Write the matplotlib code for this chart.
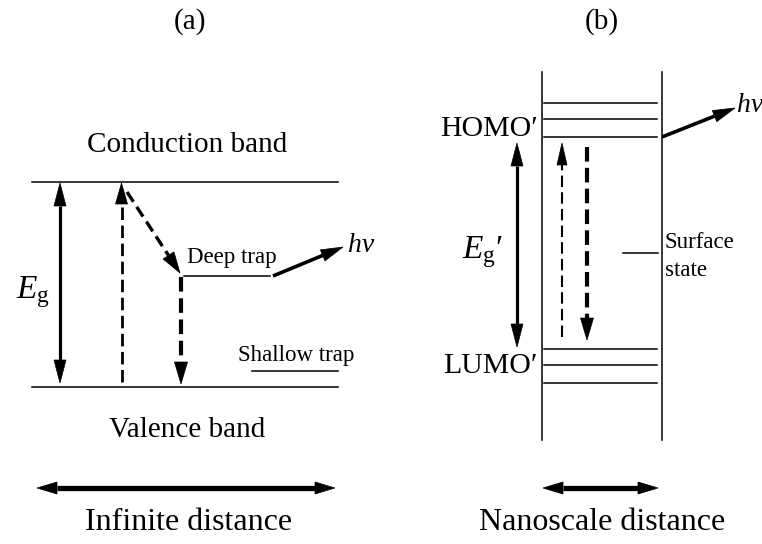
import numpy as np
import matplotlib
matplotlib.use("Agg")
import matplotlib.pyplot as plt
from matplotlib.patches import Polygon

plt.rcParams['font.family'] = ['Liberation Serif', 'DejaVu Serif']
plt.rcParams['mathtext.fontset'] = 'custom'
plt.rcParams['mathtext.rm'] = 'Liberation Serif'
plt.rcParams['mathtext.it'] = 'Liberation Serif:italic'

## Diagram values, all in picture pixels (y grows downwards)
panel_titles = ["(a)", "(b)"]
title_x = [190, 602]

# (a) bulk semiconductor
band_labels = ["Conduction band", "Valence band"]
band_levels = [182, 387]          # conduction, valence
band_x = [32, 338]
band_label_y = [145, 430]
deep_trap = {"y": 275.5, "x": [184, 270], "label": "Deep trap"}
shallow_trap = {"y": 370.5, "x": [252, 338], "label": "Shallow trap"}

# (b) nanoparticle
wall_x = [541.5, 661.5]
wall_y = [72, 440]
homo_levels = [103, 119, 137]
lumo_levels = [349, 365, 383]
level_x = [544, 657]
surface_state = {"y": 253, "x": [623, 658]}

distance_labels = ["Infinite distance", "Nanoscale distance"]
distance_x = [[37, 335], [543, 658]]
distance_label_x = [189, 602]
distance_y = 488


def head(ax, tip, tail, length=21, width=12):
    tip = np.asarray(tip, float)
    tail = np.asarray(tail, float)
    d = (tip - tail) / np.hypot(*(tip - tail))
    n = np.array([-d[1], d[0]])
    base = tip - d * length
    ax.add_patch(Polygon([tip, base + n * width / 2, base - n * width / 2],
                         closed=True, fc='black', ec='black', lw=0.5))
    return base


def arrow(ax, start, end, lw=2.2, dashes=None, both=False, length=21, width=12):
    ## shaft drawn separately so the head stays solid on dashed arrows
    base_end = head(ax, end, start, length, width)
    base_start = head(ax, start, end, length, width) if both else np.asarray(start, float)
    line, = ax.plot([base_start[0], base_end[0]], [base_start[1], base_end[1]],
                    color='black', lw=lw, solid_capstyle='butt', dash_capstyle='butt')
    if dashes is not None:
        line.set_dashes(dashes)


fig = plt.figure(figsize=(7.62, 5.44), dpi=100)
ax = fig.add_axes([0, 0, 1, 1])
ax.set_xlim(0, 762)
ax.set_ylim(544, 0)
ax.axis('off')

for t, x in zip(panel_titles, title_x):
    ax.text(x, 22, t, ha='center', va='center', fontsize=21)

## (a)
for lvl, lab, ly in zip(band_levels, band_labels, band_label_y):
    ax.plot(band_x, [lvl, lvl], color='black', lw=1.1)
    ax.text(187, ly, lab, ha='center', va='center', fontsize=21)

for trap in (deep_trap, shallow_trap):
    ax.plot(trap["x"], [trap["y"], trap["y"]], color='black', lw=1.1)
ax.text(187, 258, deep_trap["label"], ha='left', va='center', fontsize=16.5)
ax.text(238, 355, shallow_trap["label"], ha='left', va='center', fontsize=16.5)

arrow(ax, (60, band_levels[1] - 4), (60, band_levels[0] + 1), lw=2.3, both=True, length=23, width=12)
ax.text(33, 292, r'$E_{\mathrm{g}}$', ha='center', va='center', fontsize=24)

arrow(ax, (121.5, band_levels[1] - 5), (121.5, band_levels[0] + 1), lw=2.0, dashes=(4.5, 2), length=21, width=12)
arrow(ax, (127, 192), (180, 273), lw=2.4, dashes=(3.5, 1.8), length=21, width=13)
arrow(ax, (181, 277), (181, band_levels[1] - 3), lw=3.0, dashes=(3.5, 1.6), length=22, width=13)
arrow(ax, (273, 276), (343, 247), lw=2.6, length=22, width=12)
ax.text(348, 245, 'hv', ha='left', va='center', fontsize=20, style='italic')

## (b)
for wx in wall_x:
    ax.plot([wx, wx], wall_y, color='black', lw=1.1)
for lvl in homo_levels + lumo_levels:
    ax.plot(level_x, [lvl, lvl], color='black', lw=1.1)
ax.plot(surface_state["x"], [surface_state["y"]] * 2, color='black', lw=1.1)
ax.text(665, 243, 'Surface', ha='left', va='center', fontsize=16.5)
ax.text(665, 270, 'state', ha='left', va='center', fontsize=16.5)

ax.text(538, 129, "HOMO\u2032", ha='right', va='center', fontsize=21.5)
ax.text(538, 366, "LUMO\u2032", ha='right', va='center', fontsize=21.5)

arrow(ax, (517, 347), (517, 143), lw=2.3, both=True, length=23, width=12)
ax.text(482, 252, r"$E_{\mathrm{g}}{\prime}$", ha='center', va='center', fontsize=24)

arrow(ax, (562, 337), (562, 143), lw=1.5, dashes=(5.5, 2.5), length=22, width=10)
arrow(ax, (587, 147), (587, 340), lw=3.0, dashes=(3.5, 1.5), length=22, width=13)
arrow(ax, (662, 137), (735, 108), lw=2.6, length=22, width=12)
ax.text(737, 106, 'hv', ha='left', va='center', fontsize=20, style='italic')

## distance scale arrows
for xs, lab, lx in zip(distance_x, distance_labels, distance_label_x):
    arrow(ax, (xs[0], distance_y), (xs[1], distance_y), lw=3.8, both=True, length=20, width=12)
    ax.text(lx, 522, lab, ha='center', va='center', fontsize=23)

fig.savefig('out.png', dpi=100)
